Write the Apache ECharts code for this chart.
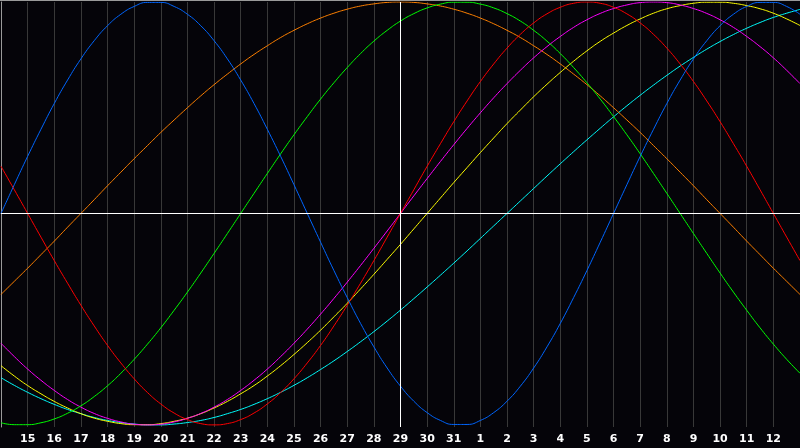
<!DOCTYPE html>
<html>
<head>
<meta charset="utf-8">
<script src="https://cdn.jsdelivr.net/npm/echarts@6/dist/echarts.min.js"></script>
<style>
html,body{margin:0;padding:0;background:#050409;}
#c{width:800px;height:448px;}
</style>
</head>
<body>
<div id="c"></div>
<script>
// day labels at each whole-day grid line (values sampled every half day)
const days = ['14','15','16','17','18','19','20','21','22','23','24','25','26','27','28','29','30','31','1','2','3','4','5','6','7','8','9','10','11','12','13'];

const blue = [0,0.136,0.270,0.398,0.520,0.631,0.731,0.817,0.888,0.942,0.979,0.998,0.998,0.979,0.942,0.888,0.817,0.731,0.631,0.520,0.398,0.270,0.136,0,
  -0.136,-0.270,-0.398,-0.520,-0.631,-0.731,-0.817,-0.888,-0.942,-0.979,-0.998,-0.998,-0.979,-0.942,-0.888,-0.817,-0.731,-0.631,-0.520,-0.398,-0.270,-0.136,
  0,0.136,0.270,0.398,0.520,0.631,0.731,0.817,0.888,0.942,0.979,0.998,0.998,0.979,0.942];
const red = [0.223,0.112,0,-0.112,-0.223,-0.330,-0.434,-0.532,-0.624,-0.707,-0.782,-0.847,-0.901,-0.944,-0.975,-0.994,-1,-0.994,-0.975,-0.944,-0.901,-0.847,-0.782,-0.707,-0.624,-0.532,-0.434,-0.330,-0.223,-0.112,
  0,0.112,0.223,0.330,0.434,0.532,0.624,0.707,0.782,0.847,0.901,0.944,0.975,0.994,1,0.994,0.975,0.944,0.901,0.847,0.782,0.707,0.624,0.532,0.434,0.330,0.223,0.112,0,-0.112,-0.223];
const green = [-0.990,-0.999,-0.999,-0.990,-0.972,-0.945,-0.910,-0.866,-0.815,-0.756,-0.690,-0.618,-0.541,-0.458,-0.372,-0.282,-0.189,-0.095,
  0,0.095,0.189,0.282,0.372,0.458,0.541,0.618,0.690,0.756,0.815,0.866,0.910,0.945,0.972,0.990,0.999,0.999,0.990,0.972,0.945,0.910,0.866,0.815,0.756,0.690,0.618,0.541,0.458,0.372,0.282,0.189,0.095,
  0,-0.095,-0.189,-0.282,-0.372,-0.458,-0.541,-0.618,-0.690,-0.756];
const magenta = [-0.614,-0.677,-0.736,-0.789,-0.837,-0.880,-0.916,-0.946,-0.969,-0.986,-0.997,-1,-0.997,-0.986,-0.969,-0.946,-0.916,-0.880,-0.837,-0.789,-0.736,-0.677,-0.614,-0.547,-0.476,-0.402,-0.325,-0.246,-0.165,-0.083,
  0,0.083,0.165,0.246,0.325,0.402,0.476,0.547,0.614,0.677,0.736,0.789,0.837,0.880,0.916,0.946,0.969,0.986,0.997,1,0.997,0.986,0.969,0.946,0.916,0.880,0.837,0.789,0.736,0.677,0.614];
const yellow = [-0.720,-0.769,-0.814,-0.853,-0.889,-0.920,-0.947,-0.968,-0.983,-0.994,-0.999,-0.999,-0.994,-0.983,-0.968,-0.947,-0.920,-0.889,-0.853,-0.814,-0.769,-0.720,-0.667,-0.611,-0.552,-0.489,-0.425,-0.357,-0.288,-0.217,-0.146,-0.073,
  0,0.073,0.146,0.217,0.288,0.357,0.425,0.489,0.552,0.611,0.667,0.720,0.769,0.814,0.853,0.889,0.920,0.947,0.968,0.983,0.994,0.999,0.999,0.994,0.983,0.968,0.947,0.920,0.889];
const orange = [-0.383,-0.321,-0.259,-0.195,-0.131,-0.065,0,0.065,0.131,0.195,0.259,0.321,0.383,0.442,0.5,0.556,0.609,0.659,0.707,0.752,0.793,0.832,0.866,0.897,0.924,0.947,0.966,0.981,0.991,0.998,
  1,0.998,0.991,0.981,0.966,0.947,0.924,0.897,0.866,0.832,0.793,0.752,0.707,0.659,0.609,0.556,0.5,0.442,0.383,0.321,0.259,0.195,0.131,0.065,0,-0.065,-0.131,-0.195,-0.259,-0.321,-0.383];
const cyan = [-0.777,-0.813,-0.846,-0.876,-0.903,-0.927,-0.947,-0.965,-0.979,-0.989,-0.996,-1.000,-1.000,-0.996,-0.989,-0.979,-0.965,-0.947,-0.927,-0.903,-0.876,-0.846,-0.813,-0.777,-0.738,-0.697,-0.653,-0.607,-0.559,-0.509,-0.457,-0.403,-0.348,-0.292,-0.235,-0.177,-0.118,-0.059,
  0,0.059,0.118,0.177,0.235,0.292,0.348,0.403,0.457,0.509,0.559,0.607,0.653,0.697,0.738,0.777,0.813,0.846,0.876,0.903,0.927,0.947,0.965];

const seriesDefs = [
  ['cyan', cyan, '#00ffff'],
  ['orange', orange, '#ff8000'],
  ['yellow', yellow, '#ffff00'],
  ['magenta', magenta, '#ff00ff'],
  ['green', green, '#00ff00'],
  ['red', red, '#ff0000'],
  ['blue', blue, '#0066ff']
];

// half-day category slots; even slots carry the day labels
const cats = [];
for (let i = 0; i < days.length * 2 - 1; i++) cats.push('s' + i);
const lastIdx = cats.length - 1;

const chart = echarts.init(document.getElementById('c'), null, {renderer: 'canvas'});
const series = seriesDefs.map(([name, data, color]) => ({
  name, type: 'line', data, smooth: true, symbol: 'none',
  lineStyle: {color, width: 1}, itemStyle: {color},
  silent: true, animation: false
}));
series.push({
  type: 'line', data: [], silent: true, animation: false,
  markLine: {
    silent: true, symbol: 'none', animation: false,
    label: {show: false},
    lineStyle: {color: '#ffffff', width: 1, type: 'solid'},
    data: [{xAxis: days.indexOf('29') * 2}, {yAxis: 0}]
  }
});

chart.setOption({
  backgroundColor: '#050409',
  animation: false,
  grid: {left: 1, right: 0, top: 2, bottom: 21},
  xAxis: {
    type: 'category', data: cats, boundaryGap: false,
    axisLine: {show: true, lineStyle: {color: '#9a9a9a', width: 1}},
    axisTick: {show: false},
    splitLine: {show: true, interval: (i) => i % 2 === 0, lineStyle: {color: '#383838', width: 1}},
    axisLabel: {
      color: '#ffffff', fontWeight: 'bold', fontSize: 11,
      fontFamily: 'DejaVu Sans', margin: 7,
      interval: (i) => i % 2 === 0 && i > 0 && i < lastIdx,
      formatter: (v, i) => (i % 2 === 0 ? days[i / 2] : '')
    }
  },
  yAxis: {
    type: 'value', min: -1.01, max: 1,
    axisLine: {show: true, onZero: false, lineStyle: {color: '#9a9a9a'}},
    axisTick: {show: false}, axisLabel: {show: false},
    splitLine: {show: false}
  },
  graphic: [{
    type: 'line', shape: {x1: 0, y1: 0.5, x2: 800, y2: 0.5},
    style: {stroke: '#9a9a9a', lineWidth: 1}, silent: true
  }],
  series
});
</script>
</body>
</html>
